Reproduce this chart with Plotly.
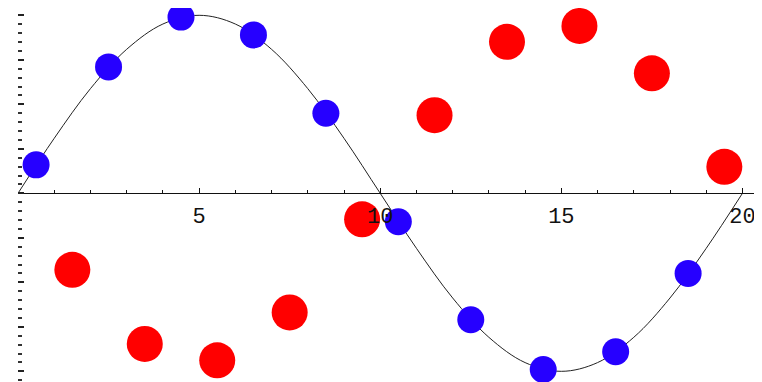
import plotly.graph_objects as go

# Curve (at x = 0..20, step 1)
curve_x = list(range(0, 21))
curve_y = [0.0, 0.309, 0.588, 0.809, 0.951, 1.0, 0.951, 0.809, 0.588, 0.309,
           0.0, -0.309, -0.588, -0.809, -0.951, -1.0, -0.951, -0.809, -0.588, -0.309, 0.0]

# Blue points (on the curve)
blue_x = [0.5, 2.5, 4.5, 6.5, 8.5, 10.5, 12.5, 14.5, 16.5, 18.5]
blue_y = [0.16, 0.71, 0.99, 0.89, 0.45, -0.16, -0.71, -0.99, -0.89, -0.45]

# Red points
red_x = [1.5, 3.5, 5.5, 7.5, 9.5, 11.5, 13.5, 15.5, 17.5, 19.5]
red_y = [-0.43, -0.846, -0.938, -0.669, -0.146, 0.439, 0.851, 0.940, 0.674, 0.149]

x_ticks = [5, 10, 15, 20]
x_tick_labels = ["5", "10", "15", "20"]

# page body adds an 8px offset; figure sized to fill the rest of the window
W, H = 754, 374
x_range = [0, 20.54]
y_range = [-1.06, 1.041]

fig = go.Figure()
fig.add_trace(go.Scatter(x=curve_x, y=curve_y, mode="lines",
                         line=dict(color="#222222", width=1, shape="spline", smoothing=1.0),
                         hoverinfo="skip", showlegend=False, cliponaxis=False))
fig.add_trace(go.Scatter(x=red_x, y=red_y, mode="markers",
                         marker=dict(color="#ff0000", size=36, line=dict(width=0)),
                         showlegend=False, cliponaxis=False))
fig.add_trace(go.Scatter(x=blue_x, y=blue_y, mode="markers",
                         marker=dict(color="#2600ff", size=27, line=dict(width=0)),
                         showlegend=False, cliponaxis=False))

pos = (0 - y_range[0]) / (y_range[1] - y_range[0])

fig.update_layout(
    width=W, height=H,
    margin=dict(l=10, r=0, t=0, b=0),
    paper_bgcolor="white", plot_bgcolor="white",
    xaxis=dict(range=x_range, anchor="free", position=pos, side="bottom",
               showgrid=False, zeroline=False, showline=True, linecolor="#111111", linewidth=1.3,
               tickmode="array", tickvals=x_ticks, ticktext=x_tick_labels,
               ticks="inside", ticklen=5, tickwidth=1.3, tickcolor="#111111",
               minor=dict(ticks="inside", ticklen=3, tickwidth=1.3, tickcolor="#111111", dtick=1, tick0=0),
               tickfont=dict(family="Liberation Mono", size=22, color="#111111"),
               ticklabelstandoff=2),
    yaxis=dict(range=y_range, showgrid=False, zeroline=False, showline=False,
               showticklabels=False,
               tickmode="linear", tick0=0, dtick=0.25,
               ticks="inside", ticklen=6, tickwidth=1.6, tickcolor="#222222",
               minor=dict(ticks="inside", ticklen=4, tickwidth=1.6, tickcolor="#333333", dtick=0.05, tick0=0)),
)

fig.write_html("out.html")
